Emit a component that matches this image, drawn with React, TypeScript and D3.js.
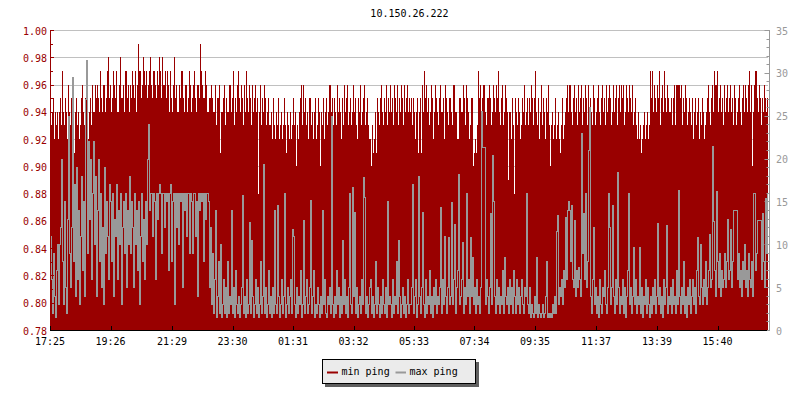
import React from "react";
import * as d3 from "d3";

const chartTitle = "10.150.26.222";
const startTime = "17:25";
const stepMinutes = 2;
const xTickLabels = ["17:25", "19:26", "21:29", "23:30", "01:31", "03:32", "05:33", "07:34", "09:35", "11:37", "13:39", "15:40"];
const leftTickValues = [0.78, 0.8, 0.82, 0.84, 0.86, 0.88, 0.9, 0.92, 0.94, 0.96, 0.98, 1.0];
const rightTickValues = [0, 5, 10, 15, 20, 25, 30, 35];
const seriesNames = ["min ping", "max ping"];

// min ping (left axis), one value per 2 minutes
const minPing = [
  .95,.93,.94,.95,.92,.94,.93,.94,.92,.94,.95,.93,.97,.94,.93,.95,.94,.92,.96,.94,
  .93,.95,.94,.92,.91,.94,.95,.93,.94,.92,.93,.95,.96,.94,.93,.95,.95,.94,.92,.94,
  .95,.93,.96,.94,.94,.96,.95,.96,.95,.94,.97,.95,.94,.96,.96,.94,.95,.97,.98,.95,
  .96,.94,.95,.97,.96,.95,.97,.94,.94,.96,.98,.95,.95,.96,.94,.97,.97,.95,.96,.94,
  .96,.95,.97,.96,.95,.97,.94,.96,.99,.97,.97,.95,.96,.98,.97,.96,.97,.95,.96,.97,
  .98,.96,.95,.97,.97,.96,.95,.97,.96,.98,.97,.95,.98,.96,.96,.97,.95,.97,.96,.94,
  .97,.95,.94,.96,.98,.95,.96,.94,.94,.96,.95,.97,.97,.95,.94,.96,.96,.94,.95,.97,
  .96,.94,.95,.96,.97,.95,.94,.96,.96,.95,.99,.97,.96,.95,.95,.97,.96,.94,.94,.95,
  .95,.96,.95,.94,.94,.96,.93,.95,.95,.96,.91,.94,.94,.95,.96,.93,.95,.94,.94,.96,
  .96,.94,.95,.97,.93,.95,.94,.96,.97,.95,.94,.96,.95,.93,.96,.94,.97,.95,.94,.96,
  .95,.93,.96,.94,.95,.96,.94,.95,.88,.94,.96,.93,.95,.94,.96,.95,.93,.94,.95,.93,
  .93,.94,.92,.95,.93,.92,.94,.93,.95,.92,.93,.94,.92,.93,.95,.93,.91,.94,.93,.92,
  .94,.92,.93,.95,.93,.94,.90,.93,.92,.94,.95,.96,.93,.96,.94,.95,.93,.94,.92,.95,
  .95,.93,.94,.92,.94,.95,.92,.93,.95,.94,.90,.94,.93,.95,.92,.94,.95,.93,.94,.96,
  .96,.94,.95,.93,.95,.94,.93,.96,.94,.95,.94,.92,.95,.93,.96,.94,.95,.96,.93,.94,
  .95,.93,.94,.96,.94,.95,.93,.92,.95,.94,.96,.93,.94,.95,.96,.93,.94,.95,.93,.92,
  .92,.90,.93,.91,.92,.94,.91,.95,.94,.93,.95,.96,.94,.93,.95,.94,.96,.93,.95,.94,
  .96,.94,.95,.93,.96,.95,.94,.96,.93,.95,.94,.96,.95,.93,.96,.94,.95,.96,.94,.95,
  .94,.95,.93,.95,.94,.92,.94,.95,.91,.94,.95,.91,.96,.94,.97,.95,.96,.94,.95,.93,
  .94,.96,.95,.92,.94,.96,.95,.94,.93,.95,.96,.94,.94,.95,.92,.96,.95,.94,.93,.95,
  .95,.94,.93,.96,.96,.94,.94,.92,.92,.95,.95,.94,.94,.96,.95,.93,.96,.95,.94,.92,
  .93,.95,.95,.90,.91,.92,.91,.93,.97,.95,.96,.94,.95,.96,.96,.94,.93,.95,.95,.96,
  .95,.93,.94,.96,.95,.94,.96,.95,.97,.94,.93,.95,.96,.93,.94,.96,.95,.94,.89,.94,
  .94,.92,.95,.93,.88,.95,.94,.93,.95,.94,.92,.93,.95,.94,.96,.93,.94,.95,.93,.95,
  .94,.96,.95,.93,.95,.97,.94,.93,.95,.92,.94,.96,.93,.95,.94,.92,.95,.94,.96,.93,
  .90,.93,.94,.92,.93,.95,.92,.93,.94,.92,.91,.93,.95,.92,.93,.94,.95,.96,.94,.96,
  .96,.94,.93,.95,.96,.94,.95,.93,.96,.94,.95,.96,.93,.95,.94,.96,.95,.93,.96,.94,
  .95,.94,.93,.96,.95,.93,.94,.95,.96,.94,.93,.95,.96,.94,.95,.93,.96,.94,.95,.96,
  .95,.93,.94,.96,.94,.95,.96,.93,.95,.96,.94,.96,.95,.96,.93,.94,.96,.95,.94,.96,
  .95,.94,.96,.93,.94,.95,.93,.92,.94,.92,.93,.91,.92,.93,.94,.92,.93,.94,.92,.93,
  .97,.95,.97,.94,.96,.95,.94,.96,.95,.97,.93,.95,.96,.94,.97,.95,.94,.96,.95,.94,
  .94,.95,.93,.95,.96,.93,.96,.96,.96,.96,.95,.96,.93,.95,.94,.96,.95,.93,.94,.95,
  .94,.93,.95,.92,.94,.95,.93,.94,.95,.92,.94,.93,.95,.94,.92,.93,.94,.95,.96,.94,
  .93,.95,.96,.94,.97,.96,.96,.97,.94,.95,.96,.94,.95,.93,.96,.94,.95,.96,.94,.95,
  .96,.94,.95,.93,.96,.95,.93,.94,.95,.96,.94,.93,.95,.96,.94,.96,.95,.94,.96,.97,
  .94,.96,.90,.94,.96,.97,.97,.95,.94,.96,.95,.93,.95,.94,.96,.95,.94,.95,
];

// max ping (right axis), one value per 2 minutes
const maxPing = [
  11,6,2,9,4,1.5,7,10,3,10,12,20,8,3,15,5,2,13,25,9,
  5,12,29.5,8,17,4,19,6,14,3,11,18,7,15,4,27,31.5,9,22,13,
  20,6,16,22,10,18,4,14,20,8,16,5,12,3,19,9,15,11,6,17,
  15,8,16,4,13,11,17,6,14,10,16,3,12,15,9,16,5,14,10,18,
  9,15,12,5,16,10,14,7,15,3,11,16,8,13,6,15,10,20,24,14,
  16,16,11,16,15,6,16,13,16,17,16,9,16,16,12,16,15,16,7,16,
  17,8,15,16,3,16,12,16,10,16,15,16,5,16,14,16,11,16,16,9,
  16,15,9,16,16,11,15,4,16,14,16,15,16,8,16,13,16,16,15,5,
  12,3,9,2,6,14,1.5,4,8,2,10,1.5,3,6,2,5,1.5,8,2,4,
  3,14,2,5,1.5,7,3,2,4,1.5,3,5,15.7,2,4,1.5,6,2,3,12.6,
  2,10.5,4,1.5,3,6,2,5,1.5,3,8,2,4,19.4,2,5,1.5,3,7,2,
  4,1.5,5,2,14,3,2,14.6,4,1.5,3,6,2,4,16,1.5,3,5,2,4,
  6,2,11.8,11,3,1.5,5,2,4,3,7,1.5,3,12.8,2,4,6,2,3,5,
  15.2,2,4,7,1.5,3,2,5,3,1.5,4,2,14,3,6,2,1.5,4,3,5,
  2,25,3,1.5,4,2,7,3,5,1.5,4,2,10.5,3,6,2,4,1.5,5,16,
  3,2,16.7,4,13.8,2,5,1.5,3,4,2,6,3,17.9,15.5,2,4,1.5,3,5,
  6,2,4,1.5,3,8,2,5,3,1.5,4,2,6,3,2,5,1.5,15,3,4,
  3,1.5,6,2,4,3,8,2,10.5,4,1.5,3,5,2,4,1.5,3,6,2,3,
  3,5,17,2,4,6,1.5,3,18,4,2,5,13.8,3,1.5,6,2,4,3,7,
  2,4,1.5,5,3,6,2,4,3,5,14.4,2,6,3,11,4,2,5,10.8,3,
  4,14.9,3,6,12.4,2,5,7,18.2,3,4,6,10.3,2,5,3,16,4,6,2,
  10.8,4,8.5,3,5,2,6,3,4,2,5,25.5,21.4,21.4,21.4,3,6,4,2,5,
  13.7,3,20.4,15,4,2,6,3,5,2,4,3,7,2,8.5,4,3,5,2,6,
  3,5,2,7,4,2,6,3,5,2,4,6,3,2,5,4,16,3,2,5,
  1.5,3,2,1.5,4,2,8.5,1.5,3,2,1.5,2,3,1.5,2,4,8.1,1.5,2,1.5,
  2,1.5,3,2,4,2,11.6,13.4,3,5,4,6,3,7,5,13.2,6,14,15,14,
  8,14.6,6,5,12.8,4,7,5,7.4,6,4,23,9,13.6,6,16,5,8,21,26,
  4,2,6,12,3,5,2,4,1.5,6,3,2,5,4,7,3,2,5,16,12,
  3,5,14.6,4,2,6,3,18.4,5,2,4,3,6,2,5,1.5,4,7,16,3,
  5,2,4,9.7,3,6,2,4,3,9.7,2,5,1.5,4,3,6,2,5,3,1.5,
  4,2,5,3,6,2,4,12.5,3,5,2,4,1.5,6,3,5,12.3,2,4,3,
  5,2,6,3,4,2,7,3,16.3,4,2,5,3,8,2,4,1.5,5,3,6,
  2,4,6,3,5,2,7,10.8,4,3,10,5,3,6,4,8,3,5,7,11.2,
  5,6,21.5,12.7,7,4,16.2,8,5,9,4,7,5,6,9,5,8,13,6,7,
  11.8,5,8,14,14,14,14,6,9,5,7,4,8,6,10,5,7,4,9,6,
  5,8,4,16,16,7,9,12.8,12.8,12.8,12.8,6,13.6,8,5,15.4,9,16,
];

const RED = "#990000";
const GRAY = "#999999";
const FONT = "'DejaVu Sans Mono', monospace";

const toMinutes = (s: string) => {
  const [h, m] = s.split(":").map(Number);
  return h * 60 + m;
};

export default function App() {
  const W = 800;
  const H = 400;
  const left = 50;
  const right = 768;
  const top = 30;
  const bottom = 330;

  const n = minPing.length;
  const totalMinutes = n * stepMinutes;
  const x = d3.scaleLinear().domain([0, totalMinutes]).range([left, right]);
  const yL = d3.scaleLinear().domain([0.78, 1.0]).range([bottom, top]);
  const yR = d3.scaleLinear().domain([0, 35]).range([bottom, top]);

  const minData = minPing.map((v, i) => ({ t: i * stepMinutes, v }));
  minData.push({ t: n * stepMinutes, v: minPing[n - 1] });
  const maxData = maxPing.map((v, i) => ({ t: i * stepMinutes, v }));

  const area = d3
    .area<{ t: number; v: number }>()
    .x((d) => x(d.t))
    .y0(yL(0.78))
    .y1((d) => yL(d.v))
    .curve(d3.curveStepAfter);
  const line = d3
    .line<{ t: number; v: number }>()
    .x((d) => x(d.t) + 0.5)
    .y((d) => Math.round(yR(d.v)) + 0.5)
    .curve(d3.curveStepAfter);

  const startMin = toMinutes(startTime);
  const xTicks = xTickLabels.map((lab) => ({
    lab,
    t: (toMinutes(lab) - startMin + 1440) % 1440,
  }));

  const leftMinor = d3.range(0, 23).map((k) => 0.78 + k * 0.01);
  const rightMinor = d3.range(0, 36);
  const fmt = d3.format(".2f");
  const rx = 769.5;

  return (
    <svg
      width={W}
      height={H}
      style={{ position: "absolute", left: 0, top: 0, background: "#fff" }}
      fontFamily={FONT}
      fontSize={10}
    >
      <rect x={0} y={0} width={W} height={H} fill="#fff" />
      <text x={409.5} y={17} textAnchor="middle" fill="#000">
        {chartTitle}
      </text>

      {/* grid */}
      {leftTickValues.slice(1).map((v) => (
        <line
          key={"g" + v}
          x1={left}
          x2={right}
          y1={Math.round(yL(v)) + 0.5}
          y2={Math.round(yL(v)) + 0.5}
          stroke="#c0c0c0"
          strokeWidth={1}
        />
      ))}

      {/* min ping area */}
      <path d={area(minData) || ""} fill={RED} shapeRendering="crispEdges" />
      {/* max ping line */}
      <path
        d={line(maxData) || ""}
        fill="none"
        stroke={GRAY}
        strokeWidth={1}
        strokeLinecap="square"
        shapeRendering="crispEdges"
      />

      {/* left axis */}
      <line x1={left + 0.5} x2={left + 0.5} y1={top} y2={bottom + 1} stroke={RED} />
      {leftMinor.map((v, k) => (
        <line
          key={"lm" + k}
          x1={left}
          x2={left + (k % 2 === 0 ? 4 : 3)}
          y1={Math.round(yL(v)) + 0.5}
          y2={Math.round(yL(v)) + 0.5}
          stroke={RED}
        />
      ))}
      {leftTickValues.map((v) => (
        <text key={"lt" + v} x={47} y={yL(v) + 4.5} textAnchor="end" fill={RED}>
          {fmt(v)}
        </text>
      ))}

      {/* right axis */}
      <line x1={rx} x2={rx} y1={top} y2={bottom + 1} stroke={GRAY} />
      {rightMinor.map((v) => (
        <line
          key={"rm" + v}
          x1={rx - (v % 5 === 0 ? 5 : 3)}
          x2={rx}
          y1={Math.round(yR(v)) + 0.5}
          y2={Math.round(yR(v)) + 0.5}
          stroke={GRAY}
        />
      ))}
      {rightTickValues.map((v) => (
        <text key={"rt" + v} x={776} y={yR(v) + 4.5} textAnchor="start" fill={GRAY}>
          {v}
        </text>
      ))}

      {/* bottom axis */}
      <line x1={left} x2={right - 1} y1={bottom + 0.5} y2={bottom + 0.5} stroke="#000" />
      {xTicks.map((d) => (
        <g key={"xt" + d.lab}>
          <line
            x1={Math.round(x(d.t)) + 0.5}
            x2={Math.round(x(d.t)) + 0.5}
            y1={bottom - 4}
            y2={bottom}
            stroke="#000"
          />
          <text x={x(d.t)} y={345} textAnchor="middle" fill="#000">
            {d.lab}
          </text>
        </g>
      ))}

      {/* legend */}
      <rect x={325} y={362} width={154} height={25} fill="#5f5f5f" />
      <rect x={322.5} y={359.5} width={153} height={24} fill="#ebebeb" stroke="#000" />
      <line x1={327} x2={338} y1={372.5} y2={372.5} stroke={RED} strokeWidth={2} />
      <text x={341.5} y={375} fill="#000">
        {seriesNames[0]}
      </text>
      <line x1={395.5} x2={406} y1={372.5} y2={372.5} stroke={GRAY} strokeWidth={2} />
      <text x={409.5} y={375} fill="#000">
        {seriesNames[1]}
      </text>
    </svg>
  );
}
